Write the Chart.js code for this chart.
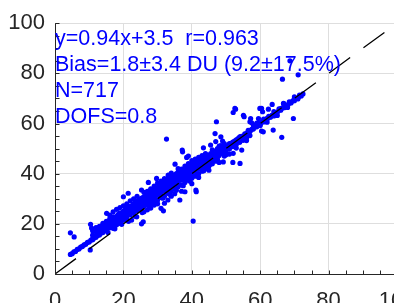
<!DOCTYPE html>
<html><head><meta charset="utf-8">
<script src="https://cdn.jsdelivr.net/npm/chart.js@4.4.1/dist/chart.umd.min.js"></script>
<style>
html,body{margin:0;padding:0;width:394px;height:303px;overflow:hidden;background:#fff;}
#wrap{position:absolute;left:0;top:0;width:430px;height:330px;}
</style></head><body>
<div id="wrap"><canvas id="c" width="430" height="330"></canvas></div>
<script>
const axisMin = 0, axisMax = 100, majorStep = 20, minorStep = 5;
const annotationLines = ["y=0.94x+3.5  r=0.963", "Bias=1.8±3.4 DU (9.2±17.5%)", "N=717", "DOFS=0.8"];
const oneToOneX = [0, 100];
const oneToOneY = [0, 100];

// tight band of retrievals along the fit
const bandPoints = [[4.5,7.8],[5,8.1],[5.5,8.8],[6,9.0],[6.5,9.8],[7,10.0],[7.5,10.7],[8,11.0],[8.5,11.6],[9,11.9],[9.5,12.6],[10,12.8],[10.5,13.5],[11,13.7],[11.5,14.4],[12,14.7],[12.5,15.4],[13,15.6],[13.5,16.3],[14,16.5],[14.5,17.3],[15,17.4],[15.5,18.3],[16,18.4],[16.5,19.2],[17,19.4],[17.5,20.2],[18,20.3],[18.5,21.2],[19,21.2],[19.5,22.1],[20,22.2],[20.5,23.0],[21,23.1],[21.5,23.9],[22,24.0],[22.5,24.9],[23,25.0],[23.5,25.8],[24,25.9],[24.5,26.7],[25,26.8],[25.5,27.7],[26,27.7],[26.5,28.6],[27,28.7],[27.5,29.5],[28,29.6],[28.5,30.5],[29,30.5],[29.5,31.4],[30,31.5],[30.5,32.4],[31,32.4],[31.5,33.3],[32,33.4],[32.5,34.2],[33,34.3],[33.5,35.2],[34,35.2],[34.5,36.1],[35,36.2],[35.5,37.0],[36,37.1],[36.5,38.0],[37,38.0],[37.5,38.9],[38,39.0],[38.5,39.9],[39,39.9],[39.5,40.8],[40,40.9],[40.5,41.7],[41,41.8],[41.5,42.7],[42,42.7],[42.5,43.6],[43,43.7],[43.5,44.6],[44,44.6],[44.5,45.5],[45,45.6],[45.5,46.4],[46,46.5],[46.5,47.4],[47,47.4],[47.5,48.3],[48,48.4],[48.5,49.3],[49,49.3],[49.5,50.2],[50,50.2],[50.5,51.1],[51,51.2],[51.5,52.1],[52,52.1],[52.5,53.0],[53,53.1],[53.5,54.0],[54,54.0],[54.5,54.9],[55,55.0],[55.5,55.9],[56,55.9],[56.5,56.8],[57,56.8],[57.5,57.7],[58,57.8],[58.5,58.7],[59,58.7],[59.5,59.6],[60,59.7],[60.5,60.6],[61,60.6],[61.5,61.5],[62,61.5],[62.5,62.4],[63,62.5],[63.5,63.4],[64,63.4],[64.5,64.3],[65,64.4],[65.5,65.3],[66,65.3],[66.5,66.2],[67,66.3],[67.5,67.2],[68,67.2],[68.5,68.1],[69,68.2],[69.5,69.0],[70,69.1],[70.5,70.0],[71,70.0],[71.5,70.9],[72,71.0],[72.5,71.8],
[40,40.4],[42,43.3],[44,44.2],[46,47.1],[48,47.9],[50,50.8],[52,51.7],[54,54.6],[56,55.4],[58,58.4],[60,59.2],[62,62.1],[64,63.0],[66,65.9],[68,66.8],[70,69.7],[56.5,57.3],[59.5,60.1],[62.5,62.9],[65.5,65.8],[68.5,68.6],[71.5,71.3]];

// broader cloud around the band
const cloudPoints = [[11,15.5],[11,17.2],[11,14.0],[12,16.8],[12,18.5],[12,15.2],[12.2,18.3],[13,17.5],[13,19.0],[13,16.0],[13.2,18.8],[14,18.6],[14,20.2],[14,16.8],[14,19.4],[14,17.9],[15,19.2],[15,21.0],[15,17.5],[15,20.0],[16,19.8],[16,22.0],[16,18.6],[16,21.2],[16,20.5],[16,23.5],[17,20.5],[17,22.8],[17,19.0],[17,21.6],[17,24.8],[17,18.2],[18,21.5],[18,23.0],[18,25.8],[18,20.1],[18,22.4],[18,19.6],[19,22.3],[19,24.4],[19,21.0],[19,26.5],[19,23.6],[19,20.2],[20,23.1],[20,25.0],[20,21.5],[20,24.2],[20,27.2],[20,22.0],[21,24.0],[21,26.3],[21,22.8],[21,25.4],[21,28.0],[21,21.5],[22,24.8],[22,27.0],[22,26.0],[22,29.2],[22,23.6],[22,25.5],[23,25.6],[23,28.0],[23,27.1],[23,30.0],[23,24.4],[23,26.3],[24,26.5],[24,29.0],[24,27.8],[24,31.0],[24,25.2],[24,28.3],[25,27.3],[25,30.0],[25,28.6],[25,26.0],[25,29.0],[26,28.2],[26,30.8],[26,29.5],[26,32.6],[26,27.0],[26,24.8],[27,29.0],[27,31.6],[27,30.2],[27,33.0],[27,27.6],[27,25.6],[28,29.8],[28,32.5],[28,34.0],[28,31.0],[28,28.0],[28,26.3],[28,33.6],[29,30.6],[29,33.2],[29,31.8],[29,35.0],[29,29.0],[29,27.5],[30,31.5],[30,34.0],[30,36.3],[30,32.6],[30,29.5],[30,28.0],[30,33.8],[31,32.3],[31,35.0],[31,26.2],[31,33.5],[31,37.0],[31,30.5],[31,34.2],[32,33.2],[32,35.8],[32,28.2],[32,34.3],[32,38.0],[32,31.0],[33,34.0],[33,36.6],[33,35.2],[33,32.2],[33,29.5],[33,37.8],[34,35.0],[34,37.4],[34,40.2],[34,36.0],[34,33.0],[34,31.0],[34,38.6],[35,35.8],[35,38.3],[35,36.8],[35,34.0],[35,32.0],[35,39.5],[36,36.6],[36,39.2],[36,42.0],[36,37.6],[36,34.8],[36,40.6],[37,37.5],[37,40.0],[37,38.5],[37,35.5],[37,33.0],[37,41.8],[38,38.4],[38,41.0],[38,39.3],[38,36.5],[38,32.8],[38,43.0],[39,39.2],[39,41.8],[39,47.0],[39,40.2],[39,37.4],[39,40.8],[39,44.0],[40,40.0],[40,42.6],[40,45.2],[40,41.0],[40,38.2],[40,36.0],[40,43.5],[41,41.0],[41,43.5],[41,42.0],[41,39.0],[41,45.8],[42,41.9],[42,44.4],[42,38.5],[42,42.8],[42,40.0],[42,46.5],[43,42.8],[43,45.2],[43,43.6],[43,41.0],[43,47.2],[44,43.6],[44,46.0],[44,44.5],[44,42.0],[44,48.0],[45,44.5],[45,47.0],[45,45.4],[45,43.1],[45,41.4],[46,45.4],[46,47.8],[46,46.2],[46,44.0],[46,49.5],[47,46.3],[47,48.6],[47,47.0],[47,45.0],[47,52.8],[48,47.2],[48,49.4],[48,48.0],[48,44.5],[48,51.0],[49,48.0],[49,50.3],[49,49.0],[49,53.0],[50,49.0],[50,51.0],[50,50.0],[50,47.5],[51,49.8],[51,52.0],[51,47.8],[51,50.8],[52,50.8],[52,52.6],[52,51.6],[53,51.6],[53,53.5],[53,52.5],[53,50.2],[54,52.5],[54,53.4],[55,53.3],[55,54.2],[56,54.2],[56,56.0],[56,53.2],[57,55.2],[57,57.0],[58,59.5],[59,60.2],[61,61.8],[62,60.5],[64,64.8],[65,63.2],[67,67.8],[68,66.4],[70,70.6],[71,69.8],
[12.5,17.5],[13.5,18.2],[14.5,19.0],[15.5,20.3],[16.5,21.5],[17.5,22.2],[18.5,23.8],[19.5,24.0],[20.5,25.6],[21.5,26.8],[22.5,27.3],[23.5,28.6],[24.5,29.7],[25.5,30.4],[26.5,31.5],[27.5,32.2],[28.5,33.5],[29.5,34.4],[30.5,35.3],[31.5,36.2],[32.5,37.0],[33.5,38.2],[34.5,39.0],[35.5,40.0],[36.5,40.5],[37.5,41.3],[38.5,42.5],[39.5,43.0],[40.5,44.1],[41.5,44.8],[42.5,45.6],[43.5,46.4],[44.5,47.3],[45.5,48.0],[46.5,48.9],[47.5,50.0],[48.5,51.2],[49.5,52.0],
[15.5,16.5],[17.5,18.0],[19.5,19.8],[21.5,21.0],[23.5,23.0],[25.5,24.5],[27.5,26.8],[29.5,28.3],[31.5,30.2],[33.5,31.8],[35.5,33.4],[37.5,35.2],[39.5,37.0],[41.5,39.5],[43.5,41.2],[45.5,43.8],[47.5,45.8],[49.5,47.0]];

// isolated points away from the cloud
const outlierPoints = [[66.5,77.7],[71.1,79.4],[68.7,85.0],[63.5,67.6],[60.7,64.7],[69.7,62.0],[66.3,54.5],[57.5,60.3],[59.9,66.0],[66.8,68.0],[55.1,63.3],[60.9,56.7],[63.8,57.4],[52.8,65.7],[52.1,64.4],[60.4,66.0],[62.4,65.7],[47.2,60.7],[57.2,62.0],[59.5,62.0],[60.4,57.0],[46.8,56.0],[48.5,54.7],[43.4,50.3],[45.5,51.4],[54.1,54.7],[32.6,53.8],[52.6,66.0],[55.3,62.7],[57.0,60.7],[37.2,49.4],[37.3,48.7],[38.5,46.5],[35.1,43.8],[40.4,21.1],[41.2,33.5],[41.3,32.8],[4.5,16.4],[5.6,14.8],[10.3,9.6],[10.4,19.8],[10.7,18.3],[15.1,24.2],[20.0,30.8],[21.4,32.2],[25.3,33.5],[27.3,36.5],[29.7,38.1],[33.1,39.4],[54.1,44.1],[52.0,44.5],[49.2,44.7],[52.1,48.1],[54.6,49.4],[31.7,25.2],[36.5,29.5],[25.8,20.8],[25.3,20.0],[23.9,22.8],[22.4,21.5]];

const toXY = arr => arr.map(p => ({x: p[0], y: p[1]}));
const allPoints = toXY(bandPoints.concat(cloudPoints, outlierPoints));
const linePoints = oneToOneX.map((v, i) => ({x: v, y: oneToOneY[i]}));

const FONT = '"Liberation Sans", Arial, Helvetica, sans-serif';

const decor = {
  id: 'decor',
  afterDatasetsDraw(chart) {
    const {ctx, chartArea: a, scales: {x, y}} = chart;
    ctx.save();
    ctx.strokeStyle = '#262626';
    ctx.lineWidth = 1;
    ctx.beginPath();
    const lx = Math.round(a.left) + 0.5, by = Math.round(a.bottom) + 0.5;
    ctx.moveTo(lx, a.top); ctx.lineTo(lx, by); ctx.lineTo(a.right, by);
    for (let v = axisMin; v <= axisMax; v += minorStep) {
      const px = Math.round(x.getPixelForValue(v)) + 0.5;
      ctx.moveTo(px, by); ctx.lineTo(px, by - 4);
      const py = Math.round(y.getPixelForValue(v)) + 0.5;
      ctx.moveTo(lx, py); ctx.lineTo(lx + 4, py);
    }
    ctx.stroke();
    ctx.fillStyle = '#0000ff';
    ctx.font = '21.5px ' + FONT;
    ctx.textBaseline = 'alphabetic';
    ctx.textAlign = 'left';
    annotationLines.forEach((t, i) => ctx.fillText(t, 55, 45 + 26 * i));
    ctx.restore();
  }
};

new Chart(document.getElementById('c'), {
  type: 'scatter',
  data: {
    datasets: [
      {type: 'line', data: linePoints, borderColor: '#000000', borderWidth: 1.3, borderDash: [26, 16.5], pointRadius: 0, fill: false, order: 0},
      {type: 'scatter', data: allPoints, backgroundColor: '#0000ff', borderWidth: 0, pointRadius: 2.6, order: 1}
    ]
  },
  options: {
    responsive: false, animation: false, devicePixelRatio: 1,
    layout: {padding: {left: 0, top: 23, right: 33, bottom: 0}},
    plugins: {legend: {display: false}, tooltip: {enabled: false}},
    scales: {
      x: {
        type: 'linear', min: axisMin, max: axisMax,
        afterFit: s => { s.height = 56; },
        grid: {color: '#dedede', lineWidth: 1, drawTicks: false},
        border: {display: false},
        ticks: {stepSize: majorStep, maxRotation: 0, autoSkip: false, padding: 14, color: '#262626', font: {size: 22, family: FONT}}
      },
      y: {
        type: 'linear', min: axisMin, max: axisMax,
        afterFit: s => { s.width = 55; },
        grid: {color: '#dedede', lineWidth: 1, drawTicks: false},
        border: {display: false},
        ticks: {stepSize: majorStep, padding: 10, color: '#262626', font: {size: 22, family: FONT}}
      }
    }
  },
  plugins: [decor]
});
</script>
</body></html>
